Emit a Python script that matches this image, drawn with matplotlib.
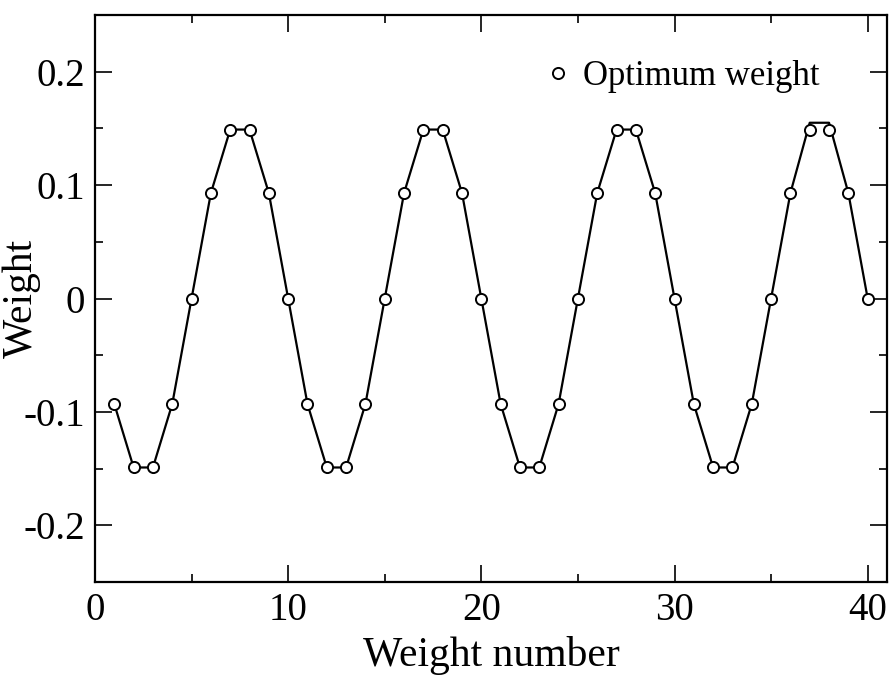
import numpy as np
import matplotlib.pyplot as plt
from matplotlib.ticker import MultipleLocator

plt.rcParams['font.family'] = ['Liberation Serif', 'DejaVu Serif']

weight_number = np.arange(1, 41)
one_period = [-0.093, -0.149, -0.149, -0.093, 0.0, 0.093, 0.149, 0.149, 0.093, 0.0]
optimum_weight = np.array(one_period * 4)
# the line sits a little above the markers at the last peak
line_weight = optimum_weight.copy()
line_weight[36] = 0.155
line_weight[37] = 0.155

fig = plt.figure(figsize=(8.91, 6.8), dpi=100)
ax = fig.add_axes([0.1066, 0.1441, 0.8889, 0.8338])

ax.plot(weight_number, line_weight, color='black', lw=1.6, zorder=2)
ax.plot(weight_number, optimum_weight, 'o', mfc='white', mec='black', mew=1.4, ms=8,
        label='Optimum weight', zorder=3)

ax.set_xlim(0, 41)
ax.set_ylim(-0.25, 0.25)
ax.xaxis.set_major_locator(MultipleLocator(10))
ax.xaxis.set_minor_locator(MultipleLocator(5))
ax.yaxis.set_minor_locator(MultipleLocator(0.05))
ax.set_yticks([-0.2, -0.1, 0, 0.1, 0.2])
ax.set_yticklabels(['-0.2', '-0.1', '0', '0.1', '0.2'])

ax.tick_params(which='both', direction='in', top=True, right=True, width=1.2, labelsize=28)
ax.tick_params(which='major', length=12, pad=7)
ax.tick_params(which='minor', length=6)
for s in ax.spines.values():
    s.set_linewidth(1.6)

ax.set_xlabel('Weight number', fontsize=30, va='center')
ax.xaxis.set_label_coords(0.5, -0.13)
ax.set_ylabel('Weight', fontsize=30, va='center')
ax.yaxis.set_label_coords(-0.093, 0.5)

ax.legend(loc='center left', bbox_to_anchor=(0.572, 0.892), frameon=False, fontsize=25,
          handlelength=0.6, handletextpad=0.4, borderpad=0, borderaxespad=0)

fig.savefig('out.png', dpi=100)
